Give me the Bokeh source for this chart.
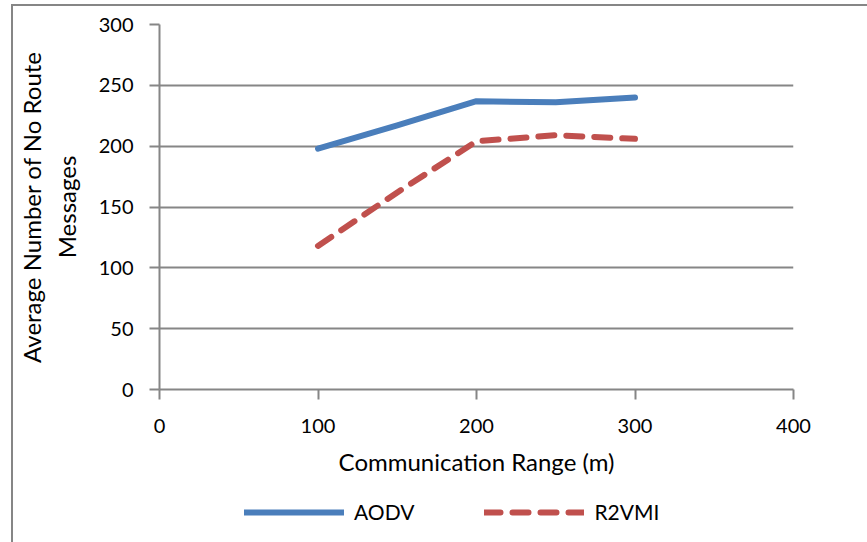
from bokeh.plotting import figure
from bokeh.layouts import column
from bokeh.models import FixedTicker, Legend, LegendItem
from bokeh.embed import file_html
from bokeh.resources import INLINE

# data
comm_range = [100, 150, 200, 250, 300]
aodv = [198, 217, 237, 236, 240]
r2vmi = [118, 162, 204, 209, 206]
x_ticks = [0, 100, 200, 300, 400]
y_ticks = [0, 50, 100, 150, 200, 250, 300]
series_names = ["AODV", "R2VMI"]

GRAY = "#868686"
BLUE = "#4A7EBB"
RED = "#C0504D"
FONT = "Lato"

p = figure(width=854, height=484, x_range=(0, 400), y_range=(0, 300),
           output_backend="svg", toolbar_location=None,
           min_border_left=144, min_border_right=74, min_border_top=18,
           min_border_bottom=101)
p.outline_line_color = None
p.background_fill_color = "white"
p.border_fill_color = "white"

p.xgrid.visible = False
p.ygrid.grid_line_color = GRAY
p.ygrid.grid_line_width = 2
p.ygrid.ticker = FixedTicker(ticks=y_ticks)

for ax in (p.xaxis[0], p.yaxis[0]):
    ax.axis_line_color = GRAY
    ax.axis_line_width = 2
    ax.major_tick_line_color = GRAY
    ax.major_tick_line_width = 2
    ax.major_tick_out = 10
    ax.major_tick_in = 0
    ax.minor_tick_line_color = None
    ax.major_label_text_font = FONT
    ax.major_label_text_font_size = "20px"
    ax.major_label_text_color = "black"
    ax.axis_label_text_font = FONT
    ax.axis_label_text_font_size = "24px"
    ax.axis_label_text_font_style = "normal"
    ax.axis_label_text_color = "black"

p.xaxis[0].ticker = FixedTicker(ticks=x_ticks)
p.yaxis[0].ticker = FixedTicker(ticks=y_ticks)
p.xaxis[0].axis_label = "Communication Range (m)"
p.yaxis[0].axis_label = "Average Number of No Route\nMessages"
p.xaxis[0].major_label_standoff = 19
p.yaxis[0].major_label_standoff = 16
p.xaxis[0].axis_label_standoff = 11
p.yaxis[0].axis_label_standoff = 15

p.line(comm_range, aodv, line_color=BLUE, line_width=6,
       line_cap="round", line_join="round")
p.line(comm_range, r2vmi, line_color=RED, line_width=6,
       line_dash="16 12", line_cap="round", line_join="round")

# legend strip below the chart (its own ranges keep the key lines off-view)
lg = figure(width=854, height=52, x_range=(0, 1), y_range=(0, 1),
            output_backend="svg", toolbar_location=None,
            x_axis_type=None, y_axis_type=None,
            min_border_left=144, min_border_right=74,
            min_border_top=0, min_border_bottom=0)
lg.outline_line_color = None
lg.grid.visible = False
lg.background_fill_color = "white"
lg.border_fill_color = "white"
k1 = lg.line(comm_range, aodv, line_color=BLUE, line_width=6, line_cap="round")
k2 = lg.line(comm_range, r2vmi, line_color=RED, line_width=6, line_dash="16 12",
             line_cap="round")
legend = Legend(items=[LegendItem(label=series_names[0], renderers=[k1]),
                       LegendItem(label=series_names[1], renderers=[k2])],
                orientation="horizontal", location=(85, 18),
                glyph_width=100, glyph_height=20, label_standoff=10,
                spacing=70, padding=0, margin=0,
                border_line_color=None, background_fill_alpha=0,
                label_text_font=FONT, label_text_font_size="21px",
                label_text_color="black")
lg.add_layout(legend, "center")

layout = column(p, lg, spacing=0)
layout.styles = {"border-left": f"2px solid {GRAY}", "border-top": f"2px solid {GRAY}",
                 "margin-left": "11px", "margin-top": "4px"}

open("out.html", "w").write(file_html(layout, INLINE))
